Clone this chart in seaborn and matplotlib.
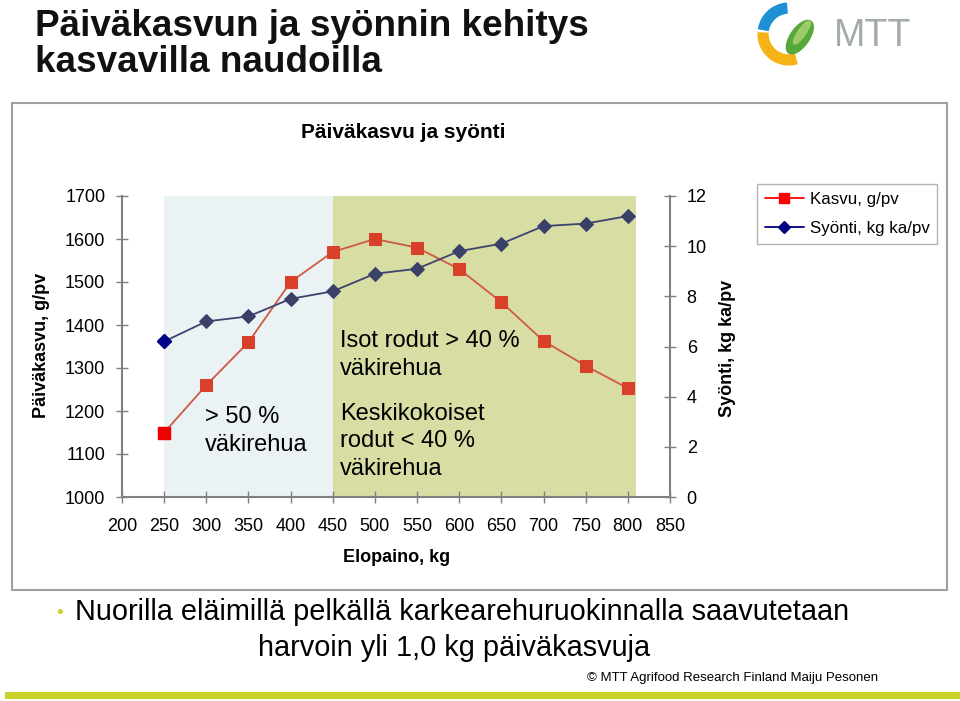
import numpy as np
import pandas as pd
import matplotlib
matplotlib.use("Agg")
import matplotlib.pyplot as plt
import seaborn as sns
from matplotlib.patches import Rectangle, Wedge, Ellipse
from matplotlib.lines import Line2D

# ---------------- data ----------------
elopaino = [250, 300, 350, 400, 450, 500, 550, 600, 650, 700, 750, 800]
kasvu = [1150, 1260, 1360, 1500, 1570, 1600, 1580, 1530, 1453, 1363, 1305, 1253]
syonti = [6.2, 7.0, 7.2, 7.9, 8.2, 8.9, 9.1, 9.8, 10.1, 10.8, 10.9, 11.2]
x_ticks = [200, 250, 300, 350, 400, 450, 500, 550, 600, 650, 700, 750, 800, 850]
y_left_ticks = [1000, 1100, 1200, 1300, 1400, 1500, 1600, 1700]
y_right_ticks = [0, 2, 4, 6, 8, 10, 12]
zone_high = (250, 450)   # > 50 % väkirehua
zone_low = (450, 810)    # < 40 % / > 40 % väkirehua

series_names = ["Kasvu, g/pv", "Syönti, kg ka/pv"]

df = pd.DataFrame({"Elopaino": elopaino, "Kasvu": kasvu, "Syonti": syonti})

# ---------------- style ----------------
sns.set_theme(style="white")
plt.rcParams["font.family"] = ["Liberation Sans", "DejaVu Sans"]
plt.rcParams["axes.edgecolor"] = "#808080"
plt.rcParams["axes.linewidth"] = 1.5
plt.rcParams["text.color"] = "black"

W, H = 960, 701
fig = plt.figure(figsize=(W / 100, H / 100), dpi=100)
fig.patch.set_facecolor("white")

def fx(px):
    return px / W

def fy(py):
    return 1 - py / H

# frame around chart
fig.add_artist(Rectangle((fx(12), fy(590)), fx(947) - fx(12), fy(103) - fy(590),
                         transform=fig.transFigure, fill=False,
                         edgecolor="#a0a0a0", linewidth=1.5))

# bottom green bar
fig.add_artist(Rectangle((fx(5), fy(699)), fx(960) - fx(5), fy(692) - fy(699),
                         transform=fig.transFigure, facecolor="#c9d229",
                         edgecolor="none"))

# ---------------- main axes ----------------
ax = fig.add_axes([fx(122), fy(497), fx(670) - fx(122), fy(196) - fy(497)])
ax.set_facecolor("white")
ax.axvspan(*zone_high, color="#eaf2f4", zorder=0, lw=0)
ax.axvspan(*zone_low, color="#d7dda3", zorder=0, lw=0)

red_line = "#cf5a43"
red_mark = "#d9402a"
blue_line = "#3d4370"
blue_mark = "#3a4068"

ax2 = ax.twinx()

sns.lineplot(data=df, x="Elopaino", y="Kasvu", ax=ax, color=red_line, lw=1.3,
             marker="s", markersize=8, markerfacecolor=red_mark,
             markeredgecolor=red_mark, zorder=3)
sns.lineplot(data=df, x="Elopaino", y="Syonti", ax=ax2, color=blue_line, lw=1.3,
             marker="D", markersize=7, markerfacecolor=blue_mark,
             markeredgecolor=blue_mark, zorder=3)
# first points are drawn in the legend colours
ax.plot(elopaino[:1], kasvu[:1], "s", color="#ee0000", ms=8, zorder=4)
ax2.plot(elopaino[:1], syonti[:1], "D", color="#000088", ms=7, zorder=4)

ax.set_xlim(x_ticks[0], x_ticks[-1])
ax.set_ylim(y_left_ticks[0], y_left_ticks[-1])
ax2.set_ylim(y_right_ticks[0], y_right_ticks[-1])
ax.set_xticks(x_ticks)
ax.set_xticklabels([str(v) for v in x_ticks])
ax.set_yticks(y_left_ticks)
ax.set_yticklabels([str(v) for v in y_left_ticks])
ax2.set_yticks(y_right_ticks)
ax2.set_yticklabels([str(v) for v in y_right_ticks])

for a in (ax, ax2):
    a.spines["top"].set_visible(False)
    a.grid(False)
ax.spines["right"].set_visible(False)
ax2.spines["left"].set_visible(False)
ax2.spines["bottom"].set_visible(False)

ax.tick_params(axis="y", direction="inout", length=8, width=1, color="#808080",
               labelsize=13, pad=8, left=True, labelcolor="black")
ax.tick_params(axis="x", direction="inout", length=8, width=1, color="#808080",
               labelsize=13, pad=11, bottom=True, labelcolor="black")
ax2.tick_params(axis="y", direction="inout", length=8, width=1, color="#808080",
                labelsize=13, pad=8, right=True, labelcolor="black")

ax.set_xlabel("")
ax.set_ylabel("")
ax2.set_ylabel("")

# annotations inside the plot
ax.text(298, 1153, "> 50 %\nväkirehua", fontsize=17, va="center", ha="left",
        linespacing=1.32, color="black", zorder=5)
ax.text(459, 1330, "Isot rodut > 40 %\nväkirehua", fontsize=17, va="center",
        ha="left", linespacing=1.32, color="black", zorder=5)
ax.text(459, 1130, "Keskikokoiset\nrodut < 40 %\nväkirehua", fontsize=17,
        va="center", ha="left", linespacing=1.32, color="black", zorder=5)

# axis labels
fig.text(fx(42), fy(345), "Päiväkasvu, g/pv", rotation=90, fontsize=13,
         fontweight="bold", ha="center", va="center")
fig.text(fx(727), fy(348), "Syönti, kg ka/pv", rotation=90, fontsize=13,
         fontweight="bold", ha="center", va="center")
fig.text(fx(397), fy(558), "Elopaino, kg", fontsize=13, fontweight="bold",
         ha="center", va="center")

# chart subtitle
fig.text(fx(403), fy(133), "Päiväkasvu ja syönti", fontsize=15,
         fontweight="bold", ha="center", va="center")

# legend
handles = [
    Line2D([], [], color="#ff0000", marker="s", markersize=7, lw=1.3),
    Line2D([], [], color="#000080", marker="D", markersize=6, lw=1.3),
]
leg = fig.legend(handles, series_names, loc="upper left",
                 bbox_to_anchor=(fx(757), fy(184)), bbox_transform=fig.transFigure,
                 fontsize=12.2, frameon=True, fancybox=False, handlelength=2.3,
                 borderpad=0.45, labelspacing=0.85, handletextpad=0.35,
                 borderaxespad=0)
leg.get_frame().set_edgecolor("#a0a0a0")
leg.get_frame().set_linewidth(1.0)
for t in leg.get_texts():
    t.set_color("black")

# slide title
fig.text(fx(35), fy(26), "Päiväkasvun ja syönnin kehitys", fontsize=26.6,
         fontweight="bold", ha="left", va="center", color="#111111")
fig.text(fx(35), fy(63), "kasvavilla naudoilla", fontsize=26.6,
         fontweight="bold", ha="left", va="center", color="#111111")

# bottom bullet text
fig.text(fx(60), fy(613), "•", fontsize=14, color="#c9d229", ha="center", va="center")
fig.text(fx(75), fy(612), "Nuorilla eläimillä pelkällä karkearehuruokinnalla saavutetaan",
         fontsize=20.8, ha="left", va="center", color="black")
fig.text(fx(454), fy(648), "harvoin yli 1,0 kg päiväkasvuja", fontsize=20.8,
         ha="center", va="center", color="black")
fig.text(fx(878), fy(678), "© MTT Agrifood Research Finland Maiju Pesonen",
         fontsize=9.5, ha="right", va="center", color="black")

# logo
lax = fig.add_axes([fx(754), fy(68), fx(824) - fx(754), fy(0) - fy(68)])
lax.set_xlim(-1.1, 1.1)
lax.set_ylim(-1.1, 1.1)
lax.set_aspect("equal")
lax.axis("off")
lax.add_patch(Wedge((0, 0), 1.0, 95, 170, width=0.32, color="#1e90d6"))
lax.add_patch(Wedge((0, 0), 1.0, 178, 285, width=0.32, color="#f4b418"))
lax.add_patch(Ellipse((0.35, -0.1), 1.25, 0.6, angle=55, color="#56a83a"))
lax.add_patch(Ellipse((0.42, 0.05), 0.9, 0.25, angle=55, color="#9ccc6a"))
fig.text(fx(834), fy(36), "MTT", fontsize=27, color="#a3abab", ha="left",
         va="center")

fig.savefig("out.png", dpi=100, facecolor="white")
